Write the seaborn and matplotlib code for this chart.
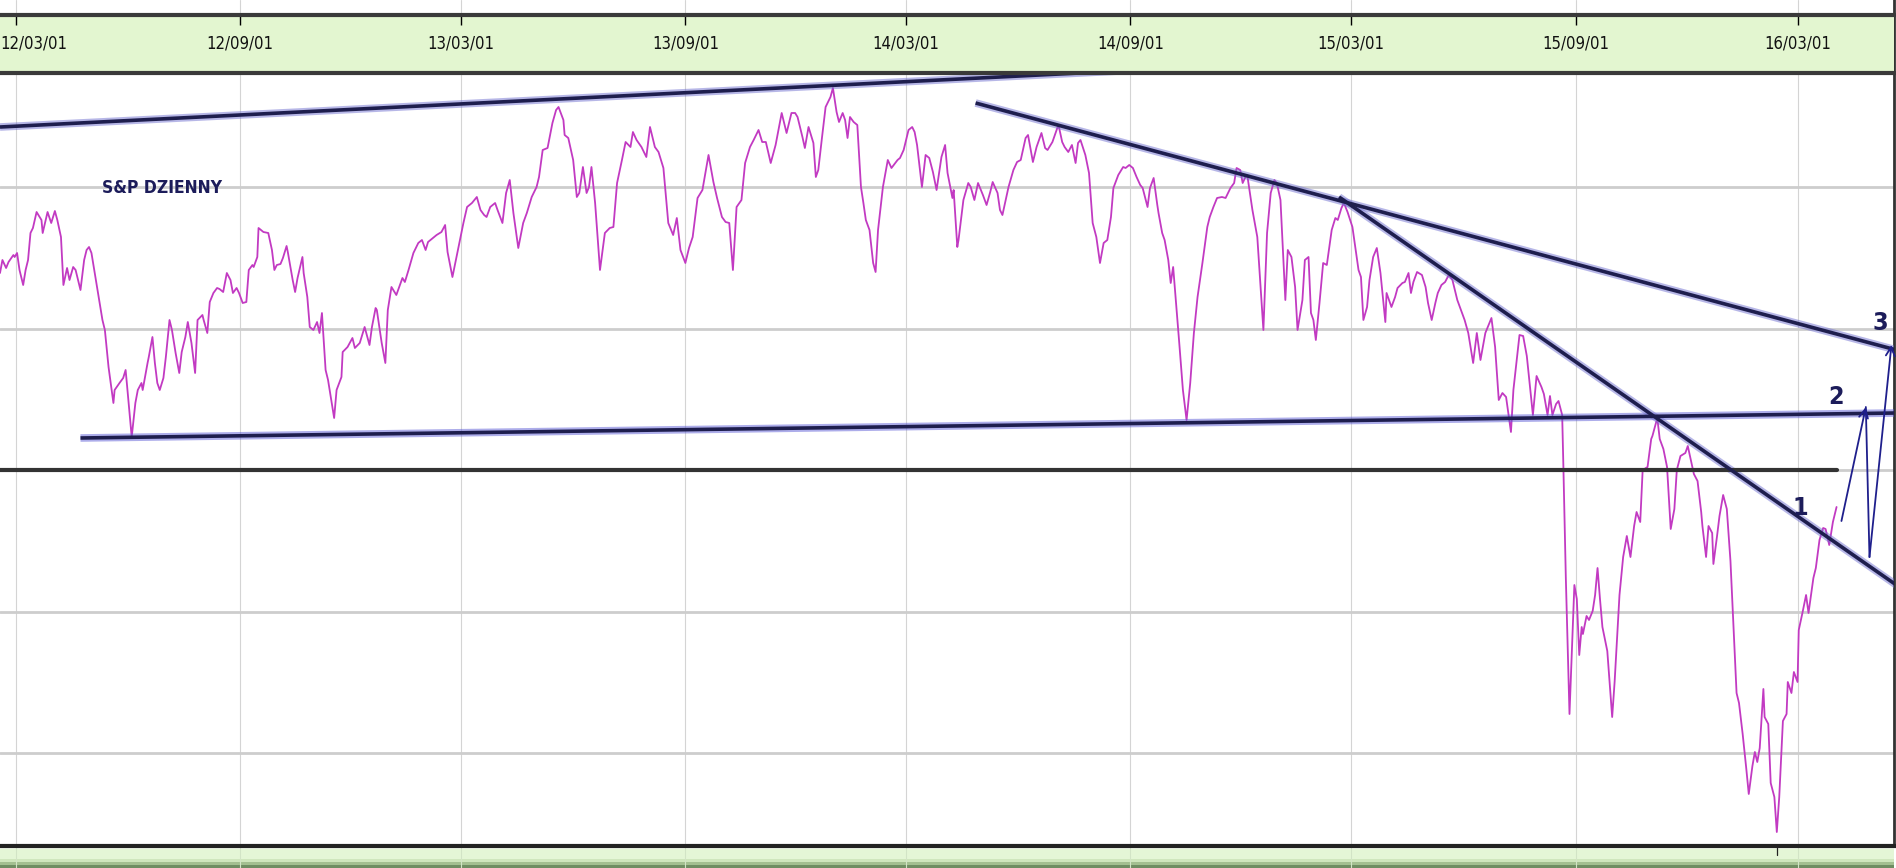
import matplotlib

matplotlib.use("Agg")
import matplotlib.dates as mdates
import matplotlib.pyplot as plt
import pandas as pd
import seaborn as sns
from matplotlib import font_manager as fm

# ─────────────────────────────────────────────
# dane (dni od START, poziom indeksu)
# ─────────────────────────────────────────────
START = pd.Timestamp("2012-02-17")
DAYS_SHOWN = 1553.1

sp_days = [
    0, 2, 5, 7, 11, 12, 14, 16, 19, 21,
    23, 25, 27, 30, 34, 35, 39, 42, 45, 47,
    50, 52, 55, 57, 60, 62, 66, 69, 71, 73,
    75, 80, 84, 86, 89, 93, 94, 98, 101, 103,
    104, 108, 111, 113, 116, 117, 121, 122, 125, 127,
    129, 131, 134, 136, 139, 141, 144, 147, 149, 152,
    154, 157, 160, 162, 166, 167, 170, 172, 175, 178,
    180, 183, 186, 189, 191, 194, 196, 199, 202, 204,
    207, 208, 211, 212, 216, 220, 223, 225, 227, 230,
    232, 235, 236, 240, 242, 244, 248, 249, 252, 254,
    257, 260, 262, 264, 267, 269, 274, 276, 280, 281,
    285, 289, 291, 295, 299, 303, 305, 308, 309, 313,
    316, 318, 321, 325,
    330, 332, 335, 339, 343, 346, 349, 351, 355, 358,
    362, 365, 367, 371, 375, 380, 383, 387, 391, 394,
    397, 399, 402, 406, 408, 412, 415, 418, 421, 425,
    429, 432, 436, 440, 442, 445, 449, 453, 456, 458,
    462, 463, 466, 470, 473, 475, 478, 481, 483, 485,
    488, 492, 496, 500, 503, 506, 510, 513, 517, 519,
    522, 526, 530, 533, 537, 540, 544, 548, 552, 555,
    558, 562, 565, 568, 572, 576, 581, 585, 588, 592,
    595, 598, 601, 604, 608, 611, 615, 618, 622, 625,
    628, 632, 636,
    641, 645, 649, 652, 654, 658, 660, 663, 667, 669,
    671, 674, 677, 681, 683, 686, 688, 691, 693, 695,
    697, 700, 703, 706, 708, 710, 713, 716, 718, 720,
    724, 728, 731, 736, 738, 741, 745, 748, 750, 752,
    756, 759, 762, 765, 768, 772, 775, 777, 781, 782,
    785, 786, 790, 794, 796, 799, 802, 806, 809, 812,
    814, 818, 820, 822, 827, 831, 834, 837, 841, 843,
    847, 850, 854, 857, 859, 863, 867, 868, 871, 873,
    876, 879, 882, 884, 886, 890, 893, 896, 899, 902,
    905, 908, 911, 913, 917, 921, 923, 926, 929, 932,
    935, 937, 941, 943, 946, 949, 950, 953, 955, 958,
    960, 962, 964, 967, 970, 973, 976, 979, 982, 986,
    990, 992, 995, 998, 1002, 1005, 1009, 1012, 1014, 1017,
    1019, 1022, 1023, 1027, 1031, 1036, 1039, 1042, 1045, 1047,
    1050, 1054, 1056, 1059, 1062, 1064, 1068, 1070, 1073, 1075,
    1077, 1079, 1082, 1085, 1088, 1092, 1095, 1097, 1100, 1102,
    1105, 1109, 1114, 1116, 1118, 1121, 1123, 1126, 1129, 1132,
    1136, 1137, 1141, 1144, 1146, 1150, 1152, 1155, 1157, 1159,
    1162, 1166, 1169, 1171, 1174, 1177, 1179, 1182, 1185, 1188,
    1191, 1195, 1198, 1201, 1204, 1208, 1211, 1214, 1218, 1220,
    1223, 1226, 1229, 1232, 1235, 1239, 1241,
    1246, 1249, 1252, 1257, 1260, 1264, 1266, 1269, 1271, 1273,
    1276, 1278, 1281, 1282, 1284, 1287, 1289, 1291, 1293, 1295,
    1297, 1298, 1301, 1303, 1306, 1308, 1310, 1312, 1314, 1318,
    1322, 1324, 1328, 1331, 1334, 1337, 1340, 1342, 1345, 1347,
    1351, 1354, 1355, 1359, 1361, 1364, 1367, 1370, 1373, 1375,
    1378, 1382, 1384, 1387, 1389, 1392, 1395, 1396, 1399, 1401,
    1404, 1405, 1408, 1410, 1413, 1416, 1419, 1421, 1424, 1426,
    1429, 1432, 1434, 1437, 1439, 1441, 1443, 1446, 1447, 1450,
    1452, 1455, 1457, 1459, 1462, 1465, 1466, 1469, 1471, 1474,
    1475, 1478, 1481, 1483, 1487, 1489, 1492, 1495, 1497, 1500,
    1503, 1506,
]
sp_level = [
    2127, 2140, 2132, 2138, 2145, 2143, 2147, 2130, 2115, 2130,
    2140, 2167, 2172, 2188, 2180, 2167, 2188, 2177, 2189, 2180,
    2163, 2115, 2132, 2120, 2133, 2130, 2110, 2140, 2150, 2153,
    2147, 2110, 2080, 2070, 2033, 1997, 2010, 2017, 2022, 2030,
    2017, 1963, 1997, 2010, 2017, 2010, 2037, 2043, 2063, 2037,
    2017, 2010, 2022, 2043, 2080, 2070, 2047, 2027, 2048, 2063,
    2078, 2057, 2027, 2080, 2085, 2080, 2067, 2098, 2107, 2112,
    2111, 2108, 2127, 2120, 2107, 2112, 2107, 2097, 2098, 2130,
    2135, 2133, 2143, 2172, 2168, 2167, 2150, 2130, 2135, 2136,
    2142, 2154, 2148, 2120, 2108, 2122, 2143, 2127, 2103, 2073,
    2070, 2078, 2067, 2087, 2030, 2020, 1982, 2010, 2023, 2048,
    2053, 2062, 2052, 2057, 2073, 2055, 2073, 2092, 2090, 2057,
    2037, 2090, 2113, 2105,
    2122, 2118, 2130, 2147, 2157, 2160, 2150, 2158, 2162, 2165,
    2168, 2175, 2148, 2123, 2147, 2177, 2193, 2197, 2203, 2190,
    2185, 2183, 2193, 2197, 2190, 2177, 2207, 2220, 2187, 2152,
    2177, 2187, 2203, 2213, 2223, 2250, 2252, 2277, 2290, 2293,
    2280, 2265, 2262, 2240, 2203, 2207, 2233, 2207, 2213, 2233,
    2197, 2130, 2167, 2172, 2173, 2217, 2240, 2258, 2253, 2268,
    2260, 2253, 2243, 2273, 2253, 2248, 2232, 2177, 2165, 2182,
    2150, 2137, 2152, 2163, 2202, 2210, 2245, 2218, 2202, 2183,
    2178, 2177, 2130, 2193, 2200, 2237, 2253, 2260, 2270, 2258,
    2258, 2237, 2255,
    2287, 2267, 2287, 2287, 2283, 2263, 2252, 2273, 2257, 2223,
    2230, 2262, 2293, 2303, 2312, 2288, 2278, 2287, 2280, 2262,
    2283, 2278, 2275, 2213, 2197, 2180, 2170, 2137, 2128, 2170,
    2213, 2240, 2232, 2240, 2242, 2250, 2270, 2273, 2268, 2255,
    2213, 2245, 2242, 2228, 2210, 2243, 2255, 2227, 2202, 2210,
    2153, 2160, 2200, 2217, 2213, 2200, 2217, 2205, 2195, 2208,
    2218, 2207, 2190, 2185, 2213, 2230, 2238, 2240, 2262, 2265,
    2238, 2253, 2267, 2252, 2250, 2258, 2272, 2275, 2258, 2253,
    2248, 2255, 2237, 2257, 2260, 2245, 2227, 2177, 2163, 2137,
    2157, 2160, 2183, 2212, 2225, 2233, 2232, 2235, 2232, 2223,
    2215, 2212, 2193, 2212, 2222, 2195, 2187, 2167, 2160, 2140,
    2117, 2133, 2103, 2057, 2010, 1980, 2017, 2067, 2103, 2137,
    2173, 2183, 2193, 2202, 2203, 2202, 2212, 2217, 2232, 2230,
    2217, 2225, 2223, 2190, 2163, 2070, 2167, 2207, 2220, 2217,
    2200, 2100, 2150, 2143, 2113, 2070, 2100, 2140, 2143, 2087,
    2080, 2060, 2097, 2137, 2135, 2170, 2182, 2180, 2192, 2197,
    2188, 2173, 2130, 2123, 2080, 2093, 2120, 2143, 2152, 2127,
    2078, 2107, 2093, 2103, 2112, 2117, 2118, 2127, 2107, 2118,
    2128, 2125, 2113, 2097, 2080, 2097, 2107, 2115, 2118, 2125,
    2120, 2100, 2090, 2080, 2067, 2037, 2067, 2040, 2067, 2073,
    2082, 2053, 2000, 2007, 2003, 1968, 2010,
    2065, 2064, 2044, 1985, 2024, 2013, 2006, 1985, 2004, 1985,
    1996, 1999, 1985, 1933, 1822, 1686, 1752, 1815, 1801, 1745,
    1773, 1766, 1784, 1780, 1789, 1805, 1832, 1801, 1773, 1749,
    1683, 1718, 1805, 1843, 1864, 1843, 1874, 1888, 1878, 1930,
    1933, 1961, 1964, 1982, 1961, 1951, 1933, 1871, 1891, 1930,
    1944, 1947, 1954, 1937, 1926, 1919, 1888, 1874, 1843, 1874,
    1867, 1836, 1864, 1884, 1905, 1891, 1839, 1787, 1707, 1697,
    1666, 1631, 1606, 1634, 1648, 1638, 1652, 1711, 1683, 1676,
    1617, 1603, 1568, 1603, 1679, 1686, 1718, 1707, 1728, 1718,
    1770, 1787, 1805, 1787, 1822, 1832, 1860, 1872, 1871, 1855,
    1878, 1893,
]
assert len(sp_days) == len(sp_level)

grid_dates = pd.date_range("2012-03-01", "2016-03-01", freq="6MS")
grid_levels = [1647, 1788, 1930, 2071, 2213]

# linie trendu: dzien poczatku/konca, poziom poczatku/konca
upper_days, upper_level = [0, 918], [2273, 2329]
support_days, support_level = [66, 1555], [1962, 1987]
down1_days, down1_level = [800, 1555], [2297, 2050]
down2_days, down2_level = [1098, 1555], [2203, 1815]
flat_days, flat_level = [0, 1506], [1930, 1930]

# scenariusz 1-2-3
path_days = [1510, 1530, 1533, 1551]
path_level = [1879, 1993, 1843, 2055]
wave_labels = ["1", "2", "3"]
wave_days = [1476, 1506, 1542]
wave_level = [1892, 2003, 2077]

title_text = "S&P DZIENNY"
title_day, title_level = 133, 2212


def dnum(days):
    return mdates.date2num(START + pd.to_timedelta(days, unit="D"))


def narrow_font(bold=False):
    # szukamy zainstalowanego kroju waskiego (condensed / narrow)
    squeezed = ("condensed", "semi-condensed", "extra-condensed", "ultra-condensed")
    found = []
    for f in fm.fontManager.ttflist:
        stretch = f.stretch
        if isinstance(stretch, str):
            ok = stretch in squeezed or "narrow" in f.name.lower() or "condensed" in f.name.lower()
        else:
            ok = stretch < 100
        if not ok or f.style != "normal":
            continue
        w = f.weight if isinstance(f.weight, int) else fm.weight_dict.get(f.weight, 400)
        if (w >= 600) != bold:
            continue
        found.append(f)
    if found:
        pref = ["Liberation Sans Narrow", "DejaVu Sans", "Roboto", "Noto Sans", "Open Sans"]
        found.sort(key=lambda f: next((i for i, p in enumerate(pref) if f.name.startswith(p)), 99))
        return fm.FontProperties(fname=found[0].fname)
    return fm.FontProperties(family="DejaVu Sans", weight="bold" if bold else "normal")


NAVY = "#1c1c5a"
sns.set_style("white")
FONT_REG = narrow_font(False)
FONT_BOLD = narrow_font(True)

fig = plt.figure(figsize=(18.96, 8.68), dpi=100)
W, H = 1896, 868

ax = fig.add_axes([0, 22 / H, 1894 / W, 846 / H])
x0 = dnum(0)
ax.set_xlim(x0, x0 + DAYS_SHOWN)
ax.set_ylim(1554, 2400)

ax.set_xticks(mdates.date2num(grid_dates))
ax.set_yticks(grid_levels)
ax.tick_params(length=0, labelbottom=False, labelleft=False)
ax.xaxis.grid(True, color="#d4d4d4", lw=0.8)
ax.yaxis.grid(True, color="#cdcdcd", lw=2.0)
for side in ["left", "top", "bottom"]:
    ax.spines[side].set_visible(False)
ax.spines["right"].set_color("#333333")
ax.spines["right"].set_linewidth(2)

sp_dates = START + pd.to_timedelta(sp_days, unit="D")
sns.lineplot(
    x=sp_dates,
    y=sp_level,
    ax=ax,
    color="#c23ac2",
    lw=1.3,
    estimator=None,
    sort=False,
    zorder=3,
)


def trend(d, v, halo="#7070d0"):
    xs = dnum(d)
    ax.plot(xs, v, color=halo, lw=5.5, alpha=0.5, solid_capstyle="butt", zorder=4)
    ax.plot(xs, v, color="#1e1e4e", lw=2.6, solid_capstyle="butt", zorder=5)


trend(upper_days, upper_level)
trend(support_days, support_level, halo="#5c5cd6")
trend(down1_days, down1_level)
trend(down2_days, down2_level)
ax.plot(dnum(flat_days), flat_level, color="#333333", lw=3.0, zorder=4)

arrow = dict(arrowstyle="->", color="#1f1f8c", lw=1.3, shrinkA=0, shrinkB=0,
             mutation_scale=16)
px = dnum(path_days)
ax.annotate("", xy=(px[1], path_level[1]), xytext=(px[0], path_level[0]),
            arrowprops=arrow, zorder=6)
ax.plot(px[1:3], path_level[1:3], color="#1f1f8c", lw=1.3, zorder=6)
ax.annotate("", xy=(px[3], path_level[3]), xytext=(px[2], path_level[2]),
            arrowprops=arrow, zorder=6)
for lab, d, v in zip(wave_labels, wave_days, wave_level):
    ax.text(dnum(d), v, lab, ha="center", va="center", fontsize=18,
            color=NAVY, fontproperties=FONT_BOLD, zorder=7)

ax.text(dnum(title_day), title_level, title_text, ha="center", va="center",
        fontsize=12.5, color=NAVY, fontproperties=FONT_BOLD, zorder=7)

# ─────────────────────────────────────────────
# gorny pasek z datami
# ─────────────────────────────────────────────
band = fig.add_axes([0, (H - 73) / H, 1894 / W, 58 / H], sharex=ax)
band.set_facecolor("#e3f6d0")
band.set_ylim(0, 1)
band.set_yticks([])
band.tick_params(axis="x", top=True, bottom=False, direction="in",
                 length=7, width=1, color="black",
                 labelbottom=False, labeltop=False)
for side in ["left", "right"]:
    band.spines[side].set_visible(False)
for side in ["top", "bottom"]:
    band.spines[side].set_color("#3a3a3a")
    band.spines[side].set_linewidth(3)
for i, d in enumerate(grid_dates):
    xd = mdates.date2num(d)
    ha = "center"
    if i == 0:
        xd, ha = x0, "left"
    band.text(xd, 0.5, d.strftime("%y/%m/%d"),
              transform=band.get_xaxis_transform(), ha=ha, va="center",
              fontsize=12, color="#111111", fontproperties=FONT_REG)

# ─────────────────────────────────────────────
# dolny pasek
# ─────────────────────────────────────────────
foot = fig.add_axes([0, 0, 1894 / W, 22 / H], sharex=ax)
foot.set_ylim(0, 1)
foot.set_yticks([])
foot.tick_params(length=0, labelbottom=False)
stripes = [(0.86, 1.0, "#f3fbec"), (0.42, 0.86, "#e4f6d6"),
           (0.26, 0.42, "#cfe6bd"), (0.12, 0.26, "#a3bf90"),
           (0.0, 0.12, "#6f8d62")]
for lo, hi, c in stripes:
    foot.axhspan(lo, hi, color=c, lw=0)
for d in grid_dates:
    foot.axvline(mdates.date2num(d), color="#d2e4c6", lw=0.8)
low_day = sp_days[sp_level.index(min(sp_level))]
foot.axvline(dnum(low_day), ymin=0.6, ymax=1, color="#222222", lw=0.9)
for side in ["left", "right", "bottom"]:
    foot.spines[side].set_visible(False)
foot.spines["top"].set_color("#222222")
foot.spines["top"].set_linewidth(3)

fig.savefig("out.png", dpi=100)
plt.close(fig)
